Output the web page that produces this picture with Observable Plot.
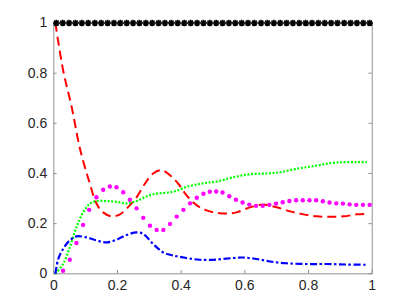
<!DOCTYPE html>
<html>
<head>
<meta charset="utf-8">
<script src="https://cdn.jsdelivr.net/npm/d3@7"></script>
<script src="https://cdn.jsdelivr.net/npm/@observablehq/plot@0.6"></script>
<style>
  html, body { margin: 0; padding: 0; background: #fff; }
  svg { display: block; }
</style>
</head>
<body>
<script>
// ---- data ----
const xTicks = [0, 0.2, 0.4, 0.6, 0.8, 1];
const xTickLabels = ["0", "0.2", "0.4", "0.6", "0.8", "1"];
const yTicks = [0, 0.2, 0.4, 0.6, 0.8, 1];
const yTickLabels = ["0", "0.2", "0.4", "0.6", "0.8", "1"];

// black asterisks (all at 1)
const starX = [0.008,0.028,0.048,0.068,0.088,0.108,0.129,0.149,0.169,0.189,0.209,0.229,0.249,0.269,0.289,0.309,0.329,0.349,0.369,0.389,0.410,0.430,0.450,0.470,0.490,0.510,0.530,0.550,0.570,0.590,0.610,0.630,0.651,0.671,0.691,0.711,0.731,0.751,0.771,0.791,0.811,0.831,0.851,0.871,0.891,0.912,0.932,0.952,0.972,0.992];
const starY = [1,1,1,1,1,1,1,1,1,1,1,1,1,1,1,1,1,1,1,1,1,1,1,1,1,1,1,1,1,1,1,1,1,1,1,1,1,1,1,1,1,1,1,1,1,1,1,1,1,1];

// red dashed
const redX = [0.005,0.029,0.056,0.082,0.113,0.134,0.155,0.181,0.208,0.234,0.26,0.286,0.312,0.339,0.365,0.391,0.417,0.449,0.48,0.512,0.543,0.574,0.616,0.658,0.7,0.742,0.784,0.826,0.868,0.91,0.952,0.983];
const redY = [1.0,0.813,0.666,0.5,0.36,0.28,0.245,0.229,0.237,0.267,0.305,0.359,0.4,0.413,0.393,0.359,0.313,0.273,0.253,0.243,0.24,0.245,0.265,0.276,0.265,0.249,0.237,0.229,0.227,0.229,0.237,0.239];

// green dotted
const greenX = [0.005,0.029,0.05,0.071,0.092,0.113,0.134,0.166,0.197,0.229,0.26,0.292,0.323,0.354,0.386,0.417,0.449,0.48,0.512,0.564,0.616,0.669,0.711,0.763,0.815,0.868,0.91,0.952,0.983];
const greenY = [0.0,0.039,0.105,0.185,0.245,0.279,0.29,0.29,0.287,0.281,0.29,0.309,0.32,0.323,0.331,0.347,0.356,0.363,0.368,0.385,0.397,0.4,0.405,0.419,0.429,0.441,0.445,0.445,0.445];

// blue dash-dot
const blueX = [0.005,0.014,0.029,0.05,0.071,0.103,0.134,0.166,0.197,0.229,0.26,0.281,0.312,0.344,0.375,0.417,0.459,0.512,0.564,0.595,0.637,0.679,0.731,0.794,0.857,0.92,0.983];
const blueY = [0.0,0.059,0.099,0.133,0.149,0.145,0.133,0.125,0.136,0.155,0.165,0.159,0.119,0.085,0.073,0.063,0.056,0.057,0.063,0.065,0.059,0.049,0.042,0.039,0.039,0.037,0.036];

// magenta dots
const magX = [0.029,0.05,0.071,0.092,0.111,0.134,0.155,0.176,0.197,0.218,0.239,0.26,0.281,0.302,0.323,0.344,0.365,0.386,0.407,0.428,0.449,0.47,0.49,0.51,0.53,0.551,0.572,0.593,0.614,0.635,0.656,0.677,0.698,0.719,0.74,0.761,0.782,0.803,0.824,0.845,0.866,0.887,0.908,0.929,0.95,0.971,0.992];
const magY = [0.012,0.056,0.123,0.195,0.255,0.305,0.335,0.348,0.345,0.325,0.295,0.261,0.223,0.192,0.175,0.175,0.199,0.228,0.255,0.281,0.303,0.319,0.327,0.328,0.324,0.309,0.295,0.284,0.276,0.271,0.271,0.275,0.28,0.285,0.29,0.293,0.293,0.293,0.293,0.289,0.284,0.281,0.28,0.277,0.275,0.275,0.275];

// ---- build tables ----
const zip = (xs, ys) => xs.map((x, i) => ({x, y: ys[i]}));
const stars = zip(starX, starY);
const red = zip(redX, redY);
const green = zip(greenX, greenY);
const blue = zip(blueX, blueY);
const mag = zip(magX, magY);

// MATLAB-like '*' marker: plus + cross
const asterisk = {
  draw(context, size) {
    const r = Math.sqrt(size / Math.PI);
    const d = r * Math.SQRT1_2;
    context.moveTo(-r, 0); context.lineTo(r, 0);
    context.moveTo(0, -r); context.lineTo(0, r);
    context.moveTo(-d, -d); context.lineTo(d, d);
    context.moveTo(-d, d); context.lineTo(d, -d);
  }
};

const W = 411, H = 308;
const mL = 53.3, mR = 39.3, mT = 22.5, mB = 34.7;
const frameH = H - mT - mB;
const tickLen = 3.3;
const axisColor = "#8f8f8f";
const fmtX = d => xTickLabels[xTicks.indexOf(d)];
const fmtY = d => yTickLabels[yTicks.indexOf(d)];

const chart = Plot.plot({
  width: W,
  height: H,
  marginLeft: mL,
  marginRight: mR,
  marginTop: mT,
  marginBottom: mB,
  style: {fontFamily: "'Liberation Sans', Arial, sans-serif", fontSize: "14px", color: "#262626", background: "#fff"},
  x: {domain: [0, 1], label: null},
  y: {domain: [0, 1], label: null},
  marks: [
    Plot.axisX(xTicks, {anchor: "bottom", label: null, tickSize: 0, tickPadding: 6.5, fontSize: 14, fill: "#262626", tickFormat: fmtX}),
    Plot.axisY(yTicks, {anchor: "left", label: null, tickSize: 0, tickPadding: 6.5, fontSize: 14, fill: "#262626", tickFormat: fmtY}),
    // inward ticks on all four sides
    Plot.tickX(xTicks, {x: d => d, stroke: axisColor, insetTop: frameH - tickLen}),
    Plot.tickX(xTicks, {x: d => d, stroke: axisColor, insetBottom: frameH - tickLen}),
    Plot.tickY(yTicks, {y: d => d, stroke: axisColor, insetRight: (W - mL - mR) - tickLen}),
    Plot.tickY(yTicks, {y: d => d, stroke: axisColor, insetLeft: (W - mL - mR) - tickLen}),
    Plot.frame({stroke: axisColor, strokeWidth: 1}),
    Plot.line(red, {x: "x", y: "y", stroke: "#ff0000", strokeWidth: 2, strokeDasharray: "9,5", strokeLinecap: "butt", curve: "catmull-rom"}),
    Plot.line(green, {x: "x", y: "y", stroke: "#00ff00", strokeWidth: 2.2, strokeDasharray: "2,1.6", strokeLinecap: "butt", curve: "catmull-rom"}),
    Plot.line(blue, {x: "x", y: "y", stroke: "#0000ff", strokeWidth: 2.2, strokeDasharray: "7,2.5,2.5,2.5", strokeLinecap: "butt", curve: "catmull-rom"}),
    Plot.dot(mag, {x: "x", y: "y", r: 2.2, fill: "#ff00ff", stroke: "none"}),
    Plot.dot(stars, {x: "x", y: "y", symbol: asterisk, r: 3.3, stroke: "#000", strokeWidth: 1.6, fill: "none"})
  ]
});
document.body.appendChild(chart);
</script>
</body>
</html>
